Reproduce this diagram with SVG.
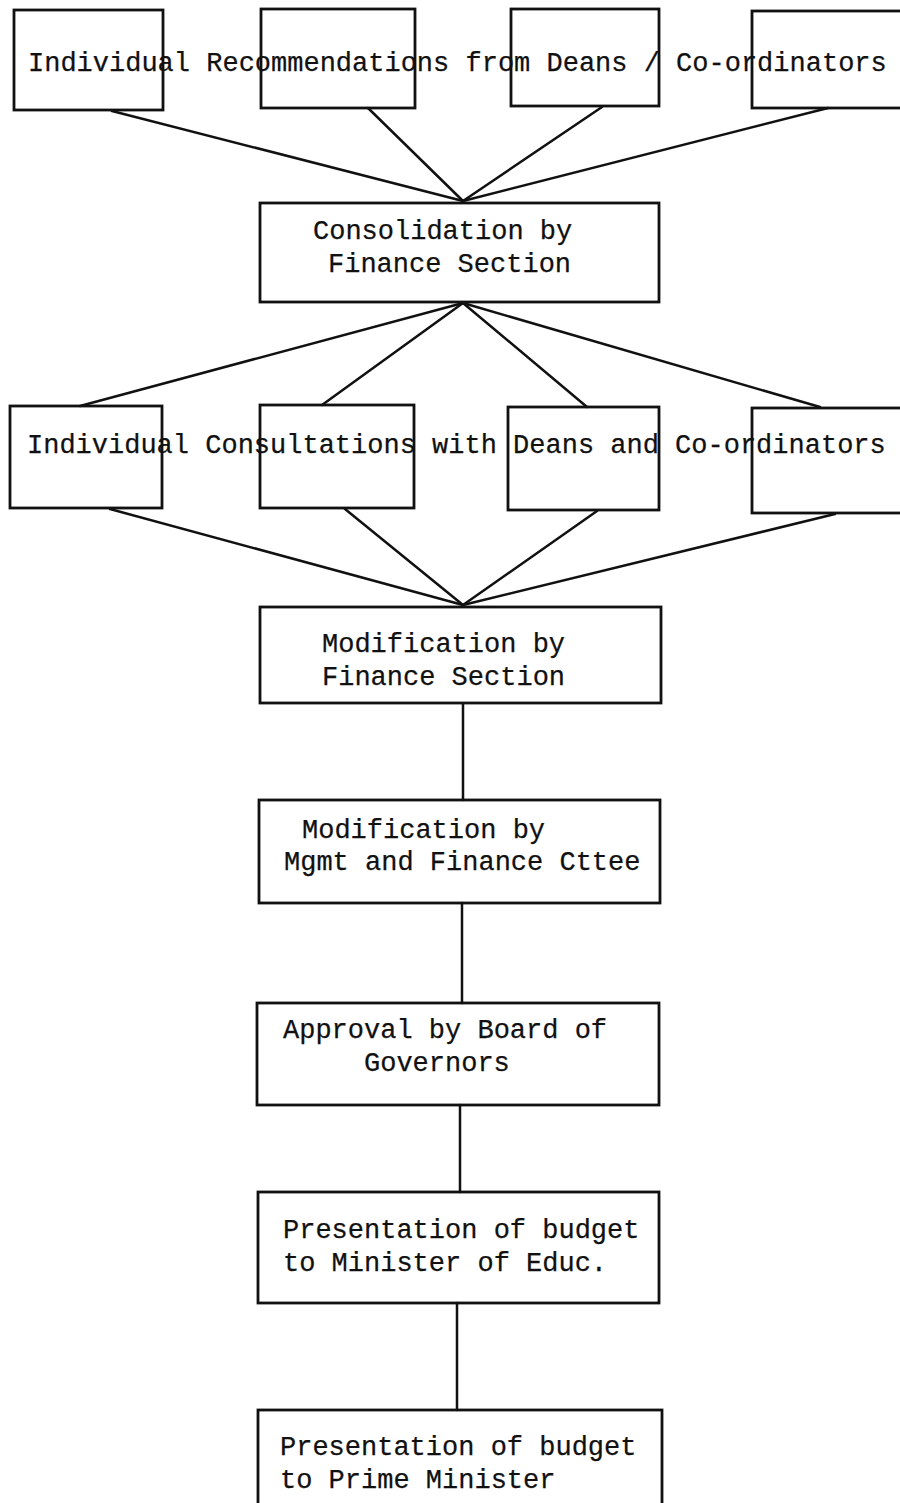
<svg xmlns="http://www.w3.org/2000/svg" width="900" height="1503" viewBox="0 0 900 1503">
  <style>
    .box { fill: none; stroke: #111; stroke-width: 2.8; }
    .link { fill: none; stroke: #111; stroke-width: 2.5; stroke-linecap: round; }
    .lbl { font-family: "Liberation Mono", "DejaVu Sans Mono", monospace; font-size: 27px; fill: #111; stroke: #111; stroke-width: 0.25; }
  </style>
  <rect x="0" y="0" width="900" height="1503" fill="#fff"/>

  <!-- connectors -->
  <g id="connectors">
    <!-- recommendations converge on consolidation -->
    <line class="link" x1="112" y1="111" x2="463" y2="201"/>
    <line class="link" x1="368" y1="108" x2="463" y2="201"/>
    <line class="link" x1="602" y1="107" x2="463" y2="201"/>
    <line class="link" x1="828" y1="108" x2="463" y2="201"/>
    <!-- consolidation fans out to consultations -->
    <line class="link" x1="463" y1="303" x2="80" y2="406"/>
    <line class="link" x1="463" y1="303" x2="322" y2="405"/>
    <line class="link" x1="463" y1="303" x2="587" y2="407"/>
    <line class="link" x1="463" y1="303" x2="820" y2="407"/>
    <!-- consultations converge on modification -->
    <line class="link" x1="110" y1="509" x2="463" y2="605"/>
    <line class="link" x1="345" y1="509" x2="463" y2="605"/>
    <line class="link" x1="597" y1="511" x2="463" y2="605"/>
    <line class="link" x1="835" y1="514" x2="463" y2="605"/>
    <!-- vertical chain -->
    <line class="link" x1="463" y1="704" x2="463" y2="800"/>
    <line class="link" x1="462" y1="903" x2="462" y2="1003"/>
    <line class="link" x1="460" y1="1105" x2="460" y2="1192"/>
    <line class="link" x1="457" y1="1303" x2="457" y2="1410"/>
  </g>

  <!-- top row: recommendations -->
  <g id="rec-1"><rect class="box" x="14" y="10" width="149" height="100"/></g>
  <g id="rec-2"><rect class="box" x="261" y="9" width="154" height="99"/></g>
  <g id="rec-3"><rect class="box" x="511" y="9" width="148" height="97"/></g>
  <g id="rec-4"><rect class="box" x="752" y="11" width="160" height="97"/></g>
  <text class="lbl" x="28" y="71">Individual Recommendations from Deans / Co-ordinators</text>

  <g id="consolidation">
    <rect class="box" x="260" y="203" width="399" height="99"/>
    <text class="lbl" x="313" y="239">Consolidation by</text>
    <text class="lbl" x="328" y="272">Finance Section</text>
  </g>

  <!-- second row: consultations -->
  <g id="cons-1"><rect class="box" x="10" y="406" width="152" height="102"/></g>
  <g id="cons-2"><rect class="box" x="260" y="405" width="154" height="103"/></g>
  <g id="cons-3"><rect class="box" x="508" y="407" width="151" height="103"/></g>
  <g id="cons-4"><rect class="box" x="752" y="408" width="160" height="105"/></g>
  <text class="lbl" x="27" y="453">Individual Consultations with Deans and Co-ordinators</text>

  <g id="modification-finance">
    <rect class="box" x="260" y="607" width="401" height="96"/>
    <text class="lbl" x="322" y="652">Modification by</text>
    <text class="lbl" x="322" y="685">Finance Section</text>
  </g>

  <g id="modification-cttee">
    <rect class="box" x="259" y="800" width="401" height="103"/>
    <text class="lbl" x="302" y="838">Modification by</text>
    <text class="lbl" x="284" y="870">Mgmt and Finance Cttee</text>
  </g>

  <g id="approval">
    <rect class="box" x="257" y="1003" width="402" height="102"/>
    <text class="lbl" x="283" y="1038">Approval by Board of</text>
    <text class="lbl" x="364" y="1071">Governors</text>
  </g>

  <g id="minister-educ">
    <rect class="box" x="258" y="1192" width="401" height="111"/>
    <text class="lbl" x="283" y="1238">Presentation of budget</text>
    <text class="lbl" x="283" y="1271">to Minister of Educ.</text>
  </g>

  <g id="prime-minister">
    <rect class="box" x="258" y="1410" width="404" height="100"/>
    <text class="lbl" x="280" y="1455">Presentation of budget</text>
    <text class="lbl" x="280" y="1488">to Prime Minister</text>
  </g>
</svg>
